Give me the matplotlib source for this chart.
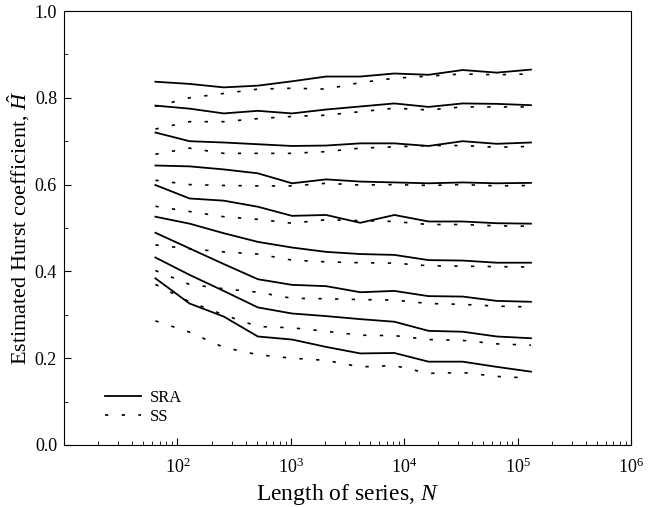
import numpy as np
import matplotlib
matplotlib.use("Agg")
import matplotlib.pyplot as plt
from matplotlib.ticker import LogLocator, MultipleLocator, FormatStrFormatter

plt.rcParams['font.family'] = 'Liberation Serif'
plt.rcParams['mathtext.fontset'] = 'custom'
plt.rcParams['mathtext.rm'] = 'Liberation Serif'
plt.rcParams['mathtext.it'] = 'Liberation Serif:italic'

# series lengths N = 2^6 ... 2^17
N = [64, 128, 256, 512, 1024, 2048, 4096, 8192, 16384, 32768, 65536, 131072]

# estimated H, SRA method (one list per curve, top to bottom)
sra_1 = [0.837, 0.832, 0.824, 0.828, 0.838, 0.849, 0.849, 0.856, 0.853, 0.864, 0.858, 0.865]
sra_2 = [0.782, 0.775, 0.764, 0.770, 0.764, 0.773, 0.780, 0.787, 0.779, 0.787, 0.786, 0.783]
sra_3 = [0.720, 0.700, 0.697, 0.693, 0.689, 0.690, 0.695, 0.695, 0.689, 0.700, 0.694, 0.697]
sra_4 = [0.644, 0.642, 0.635, 0.626, 0.603, 0.612, 0.607, 0.605, 0.603, 0.605, 0.603, 0.604]
sra_5 = [0.599, 0.568, 0.563, 0.549, 0.528, 0.530, 0.512, 0.530, 0.515, 0.515, 0.511, 0.510]
sra_6 = [0.526, 0.510, 0.488, 0.468, 0.455, 0.445, 0.440, 0.438, 0.426, 0.425, 0.420, 0.420]
sra_7 = [0.489, 0.453, 0.417, 0.382, 0.369, 0.366, 0.352, 0.355, 0.343, 0.342, 0.332, 0.330]
sra_8 = [0.432, 0.392, 0.355, 0.317, 0.303, 0.297, 0.290, 0.284, 0.263, 0.261, 0.250, 0.246]
sra_9 = [0.384, 0.326, 0.296, 0.250, 0.243, 0.226, 0.211, 0.212, 0.192, 0.192, 0.180, 0.169]

# estimated H, SS method
ss_1 = [0.780, 0.800, 0.810, 0.820, 0.822, 0.820, 0.835, 0.845, 0.850, 0.855, 0.853, 0.855]
ss_2 = [0.728, 0.745, 0.745, 0.752, 0.757, 0.760, 0.768, 0.776, 0.772, 0.779, 0.779, 0.779]
ss_3 = [0.670, 0.684, 0.672, 0.672, 0.672, 0.676, 0.684, 0.687, 0.690, 0.690, 0.686, 0.688]
ss_4 = [0.610, 0.600, 0.598, 0.597, 0.597, 0.603, 0.599, 0.600, 0.598, 0.600, 0.597, 0.598]
ss_5 = [0.550, 0.538, 0.526, 0.520, 0.511, 0.519, 0.517, 0.515, 0.508, 0.508, 0.505, 0.504]
ss_6 = [0.461, 0.452, 0.445, 0.440, 0.426, 0.422, 0.420, 0.419, 0.413, 0.412, 0.411, 0.410]
ss_7 = [0.402, 0.370, 0.360, 0.352, 0.338, 0.337, 0.335, 0.334, 0.326, 0.324, 0.320, 0.318]
ss_8 = [0.370, 0.330, 0.300, 0.273, 0.270, 0.262, 0.253, 0.252, 0.243, 0.241, 0.233, 0.230]
ss_9 = [0.286, 0.260, 0.225, 0.208, 0.200, 0.195, 0.180, 0.183, 0.165, 0.167, 0.158, 0.154]

sra_curves = [sra_1, sra_2, sra_3, sra_4, sra_5, sra_6, sra_7, sra_8, sra_9]
ss_curves = [ss_1, ss_2, ss_3, ss_4, ss_5, ss_6, ss_7, ss_8, ss_9]

fig = plt.figure(figsize=(6.49, 5.07), dpi=100)
ax = fig.add_axes([0.0986, 0.1223, 0.8737, 0.856])

dotted = (0, (2, 8))
for i, ys in enumerate(sra_curves):
    ax.plot(N, ys, color='black', lw=1.3, label='SRA' if i == 0 else None)
for i, ys in enumerate(ss_curves):
    ax.plot(N, ys, color='black', lw=1.2, linestyle=dotted,
            label='SS' if i == 0 else None)

ax.set_xscale('log')
ax.set_xlim(10, 1e6)
ax.set_ylim(0, 1.0)
ax.xaxis.set_minor_locator(LogLocator(base=10, subs=np.arange(2, 10), numticks=10))
ax.set_xticks([1e2, 1e3, 1e4, 1e5, 1e6])
ax.set_xticklabels([r'$10^2$', r'$10^3$', r'$10^4$', r'$10^5$', r'$10^6$'])
ax.yaxis.set_major_locator(MultipleLocator(0.2))
ax.yaxis.set_minor_locator(MultipleLocator(0.1))
ax.yaxis.set_major_formatter(FormatStrFormatter('%.1f'))
ax.tick_params(which='both', direction='in', top=False, right=False, labelsize=13)
ax.tick_params(axis='x', which='major', length=5, pad=9)
ax.tick_params(axis='y', which='major', length=5, pad=5)
ax.tick_params(which='minor', length=3)

ax.set_xlabel(r'Length of series, $N$', fontsize=17, labelpad=4)
ax.set_ylabel(r'Estimated Hurst coefficient, $\hat{H}$', fontsize=16, labelpad=2)

ax.legend(loc='lower left', bbox_to_anchor=(0.045, 0.012), frameon=False,
          fontsize=12, handlelength=2.2, handletextpad=0.5, labelspacing=0.15)

fig.savefig('out.png', dpi=100)
